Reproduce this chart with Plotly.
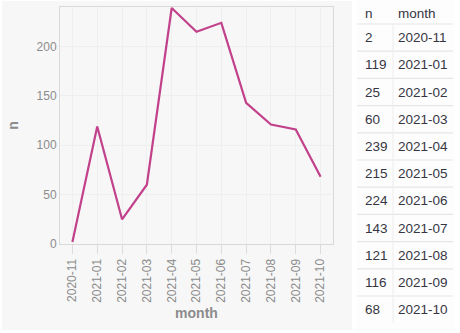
import plotly.graph_objects as go

# monthly counts
months = ["2020-11", "2021-01", "2021-02", "2021-03", "2021-04", "2021-05",
          "2021-06", "2021-07", "2021-08", "2021-09", "2021-10"]
counts = [2, 119, 25, 60, 239, 215, 224, 143, 121, 116, 68]

W, H = 460, 333
FONT = "Liberation Sans, Arial, Helvetica, sans-serif"
AXIS_GREY = "#8c8c8c"
RULE = "#e6e6e6"

# table geometry (pixels)
TBL_LEFT, TBL_RIGHT, TBL_TOP = 357, 453, 0
HEADER_H, ROW_H = 24, 27.2
COL_SPLIT = 393


def px_x(v):
    return v / W


def px_y(v):
    return 1 - v / H


fig = go.Figure()

fig.add_trace(go.Scatter(
    x=months, y=counts, mode="lines",
    line=dict(color="#c2418b", width=2.2),
    hoverinfo="x+y", showlegend=False,
    xaxis="x", yaxis="y",
))

fig.add_trace(go.Table(
    domain=dict(x=[px_x(TBL_LEFT), px_x(TBL_RIGHT)],
                y=[px_y(min(H, TBL_TOP + HEADER_H + ROW_H * len(months) + 1)),
                   px_y(TBL_TOP)]),
    columnwidth=[33, 63],
    header=dict(
        values=["n", "month"],
        align="left",
        height=HEADER_H,
        fill_color="rgba(0,0,0,0)",
        line=dict(color="rgba(0,0,0,0)", width=0),
        font=dict(family=FONT, size=13.5, color="#363642"),
    ),
    cells=dict(
        values=[counts, months],
        align="left",
        height=ROW_H,
        fill_color="rgba(0,0,0,0)",
        line=dict(color="rgba(0,0,0,0)", width=0),
        font=dict(family=FONT, size=13.5, color="#363642"),
    ),
))

# row rules: one under the header and one between each pair of rows
rule_top = TBL_TOP + HEADER_H
row_rules = [
    dict(type="line", xref="paper", yref="paper", layer="above",
         x0=px_x(TBL_LEFT), x1=px_x(TBL_RIGHT),
         y0=px_y(rule_top + i * ROW_H), y1=px_y(rule_top + i * ROW_H),
         line=dict(color=RULE, width=1.2))
    for i in range(len(months))
]
col_rule = dict(type="line", xref="paper", yref="paper", layer="above",
                x0=px_x(COL_SPLIT), x1=px_x(COL_SPLIT),
                y0=px_y(rule_top), y1=px_y(rule_top + len(months) * ROW_H),
                line=dict(color="#ececec", width=1))

fig.update_layout(
    width=W, height=H,
    margin=dict(l=0, r=0, t=0, b=0, autoexpand=False),
    paper_bgcolor="#ffffff",
    plot_bgcolor="#fafafa",
    font=dict(family=FONT, color=AXIS_GREY),
    shapes=[
        # chart panel background
        dict(type="rect", xref="paper", yref="paper", layer="below",
             x0=px_x(2), x1=px_x(352), y0=px_y(330), y1=px_y(1),
             fillcolor="#f7f7f7", line=dict(width=0)),
        # table panel background
        dict(type="rect", xref="paper", yref="paper", layer="below",
             x0=px_x(TBL_LEFT), x1=px_x(455), y0=0, y1=1,
             fillcolor="#fdfdfe", line=dict(width=0)),
    ] + row_rules + [col_rule],
    xaxis=dict(
        domain=[px_x(60), px_x(333)],
        type="category",
        range=[-0.5, len(months) - 0.5],
        tickangle=-90,
        tickfont=dict(size=12, color=AXIS_GREY),
        ticks="outside", ticklen=9, tickcolor="#dddddd",
        showgrid=True, gridcolor="#efefef", gridwidth=1,
        showline=True, linecolor="#d9d9d9", linewidth=1, mirror=True,
        title=dict(text="<b>month</b>", font=dict(size=14, color=AXIS_GREY),
                   standoff=6),
        automargin=False,
        anchor="y", fixedrange=True,
    ),
    yaxis=dict(
        domain=[px_y(244), px_y(7)],
        range=[0, 240],
        tickvals=[0, 50, 100, 150, 200],
        tickfont=dict(size=12, color=AXIS_GREY),
        showgrid=True, gridcolor="#efefef", gridwidth=1,
        zeroline=False,
        showline=True, linecolor="#d9d9d9", linewidth=1, mirror=True,
        title=dict(text="<b>n</b>", font=dict(size=14, color=AXIS_GREY),
                   standoff=14),
        automargin=False,
        anchor="x", fixedrange=True,
    ),
)

fig.write_html("out.html")
